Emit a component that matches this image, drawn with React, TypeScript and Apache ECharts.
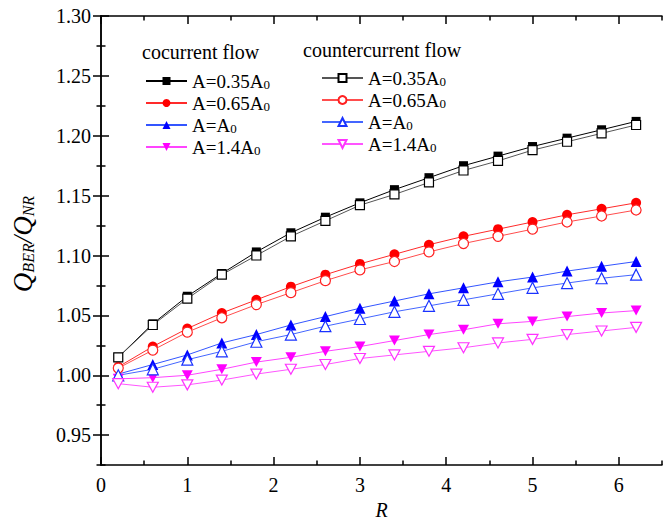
import React, { useEffect, useRef } from "react";
import * as echarts from "echarts";

const xValues = [0.2, 0.6, 1.0, 1.4, 1.8, 2.2, 2.6, 3.0, 3.4, 3.8, 4.2, 4.6, 5.0, 5.4, 5.8, 6.2];

const co035 = [1.015, 1.043, 1.066, 1.085, 1.103, 1.119, 1.132, 1.144, 1.155, 1.165, 1.175, 1.183, 1.191, 1.198, 1.205, 1.212];
const co065 = [1.007, 1.024, 1.039, 1.052, 1.063, 1.074, 1.084, 1.093, 1.101, 1.109, 1.116, 1.122, 1.128, 1.134, 1.139, 1.144];
const co100 = [1.001, 1.009, 1.017, 1.027, 1.034, 1.042, 1.049, 1.056, 1.062, 1.068, 1.073, 1.078, 1.082, 1.087, 1.091, 1.095];
const co140 = [0.997, 0.998, 1.0, 1.005, 1.011, 1.015, 1.02, 1.024, 1.029, 1.034, 1.038, 1.043, 1.045, 1.049, 1.052, 1.054];

const ct035 = [1.015, 1.042, 1.064, 1.084, 1.1, 1.116, 1.129, 1.142, 1.151, 1.161, 1.171, 1.179, 1.188, 1.195, 1.202, 1.209];
const ct065 = [1.006, 1.021, 1.036, 1.048, 1.059, 1.069, 1.079, 1.088, 1.095, 1.103, 1.11, 1.116, 1.122, 1.128, 1.133, 1.138];
const ct100 = [1.0, 1.005, 1.013, 1.02, 1.028, 1.034, 1.041, 1.047, 1.053, 1.058, 1.063, 1.068, 1.073, 1.077, 1.081, 1.084];
const ct140 = [0.993, 0.99, 0.992, 0.996, 1.001, 1.005, 1.009, 1.014, 1.017, 1.02, 1.023, 1.027, 1.03, 1.034, 1.037, 1.04];

const xMajor = [0, 1, 2, 3, 4, 5, 6];
const xMinor = [0.5, 1.5, 2.5, 3.5, 4.5, 5.5, 6.5];
const yMajor = [0.95, 1.0, 1.05, 1.1, 1.15, 1.2, 1.25, 1.3];
const yMinor = [0.925, 0.975, 1.025, 1.075, 1.125, 1.175, 1.225, 1.275];

const legendLabels: Record<string, string> = {
  co035: "A=0.35A{s|0}",
  co065: "A=0.65A{s|0}",
  co100: "A=A{s|0}",
  co140: "A=1.4A{s|0}",
  ct035: "A=0.35A{s|0}",
  ct065: "A=0.65A{s|0}",
  ct100: "A=A{s|0}",
  ct140: "A=1.4A{s|0}",
};

const FONT = "Liberation Serif";
const DOWN_TRI = "path://M0,0L10,0L5,9Z";

export default function App() {
  const ref = useRef<HTMLDivElement>(null);
  useEffect(() => {
    if (!ref.current) return;
    const chart = echarts.init(ref.current, undefined, { renderer: "svg" });
    const pairs = (ys: number[]) => xValues.map((x, i) => [x, ys[i]]);
    const filled = (name: string, ys: number[], color: string, lineColor: string, symbol: string, size: any) => ({
      name,
      type: "line",
      data: pairs(ys),
      symbol,
      symbolSize: size,
      showSymbol: true,
      lineStyle: { color: lineColor, width: 1 },
      itemStyle: { color, borderColor: color, borderWidth: 0 },
      xAxisIndex: 0,
      yAxisIndex: 0,
    });
    const hollow = (name: string, ys: number[], color: string, lineColor: string, symbol: string, size: any) => ({
      name,
      type: "line",
      data: pairs(ys),
      symbol,
      symbolSize: size,
      showSymbol: true,
      lineStyle: { color: lineColor, width: 1 },
      itemStyle: { color: "#ffffff", borderColor: color, borderWidth: 1.2 },
      xAxisIndex: 0,
      yAxisIndex: 0,
    });
    const axisLine = { show: true, lineStyle: { color: "#000", width: 1.5 } };
    const tickStyle = { color: "#000", width: 1.5 };
    const baseX = { type: "value", min: 0, max: 6.5, splitLine: { show: false } };
    const baseY = { type: "value", min: 0.925, max: 1.3, splitLine: { show: false } };
    const legendCommon = {
      orient: "vertical",
      itemWidth: 41,
      itemHeight: 10,
      itemGap: 2,
      selectedMode: false,
      formatter: (n: string) => legendLabels[n],
      textStyle: {
        fontFamily: FONT,
        fontSize: 19,
        color: "#000",
        lineHeight: 20,
        rich: {
          s: { fontFamily: FONT, fontSize: 13, lineHeight: 13, verticalAlign: "bottom", color: "#000" },
        },
      },
    };
    chart.setOption({
      animation: false,
      backgroundColor: "#ffffff",
      textStyle: { fontFamily: FONT },
      grid: { left: 101, right: 1, top: 16, bottom: 53 },
      xAxis: [
        {
          ...baseX,
          position: "bottom",
          axisLine,
          axisTick: { show: true, inside: true, length: 8, lineStyle: tickStyle, customValues: xMajor },
          axisLabel: {
            customValues: xMajor,
            margin: 10,
            fontFamily: FONT,
            fontSize: 20,
            color: "#000",
            formatter: (v: number) => String(v),
          },
          name: "R",
          nameLocation: "middle",
          nameGap: 31,
          nameTextStyle: { fontFamily: FONT, fontSize: 20, fontStyle: "italic", color: "#000" },
        },
        {
          ...baseX,
          position: "bottom",
          axisLine: { show: false },
          axisTick: { show: true, inside: true, length: 4.5, lineStyle: tickStyle, customValues: xMinor },
          axisLabel: { show: false },
        },
        {
          ...baseX,
          position: "top",
          axisLine,
          axisTick: { show: true, inside: true, length: 8, lineStyle: tickStyle, customValues: xMajor },
          axisLabel: { show: false },
        },
        {
          ...baseX,
          position: "top",
          axisLine: { show: false },
          axisTick: { show: true, inside: true, length: 4.5, lineStyle: tickStyle, customValues: xMinor },
          axisLabel: { show: false },
        },
      ],
      yAxis: [
        {
          ...baseY,
          position: "left",
          axisLine,
          axisTick: { show: true, inside: true, length: 8, lineStyle: tickStyle, customValues: yMajor },
          axisLabel: {
            customValues: yMajor,
            margin: 10,
            fontFamily: FONT,
            fontSize: 20,
            color: "#000",
            formatter: (v: number) => v.toFixed(2),
          },
        },
        {
          ...baseY,
          position: "left",
          axisLine: { show: false },
          axisTick: { show: true, inside: true, length: 4.5, lineStyle: tickStyle, customValues: yMinor },
          axisLabel: { show: false },
        },
        {
          ...baseY,
          position: "right",
          axisLine,
          axisTick: { show: true, inside: true, length: 8, lineStyle: tickStyle, customValues: yMajor },
          axisLabel: { show: false },
        },
        {
          ...baseY,
          position: "right",
          axisLine: { show: false },
          axisTick: { show: true, inside: true, length: 4.5, lineStyle: tickStyle, customValues: yMinor },
          axisLabel: { show: false },
        },
      ],
      legend: [
        { ...legendCommon, left: 140, top: 66, data: ["co035", "co065", "co100", "co140"] },
        { ...legendCommon, left: 316, top: 63, data: ["ct035", "ct065", "ct100", "ct140"] },
      ],
      graphic: [
        {
          type: "text",
          left: 142,
          top: 42,
          style: { text: "cocurrent flow", font: `20px ${FONT}`, fill: "#000" },
        },
        {
          type: "text",
          left: 303,
          top: 40,
          style: { text: "countercurrent flow", font: `20px ${FONT}`, fill: "#000" },
        },
        {
          type: "text",
          x: 22,
          y: 244,
          rotation: Math.PI / 2,
          style: {
            text: "{q|Q}{s|BER}{q|/Q}{s|NR}",
            align: "center",
            verticalAlign: "middle",
            fill: "#000",
            rich: {
              q: { fontFamily: FONT, fontStyle: "italic", fontSize: 27, fill: "#000", lineHeight: 28, verticalAlign: "bottom" },
              s: { fontFamily: FONT, fontStyle: "italic", fontSize: 16, fill: "#000", lineHeight: 16, verticalAlign: "bottom" },
            },
          },
        },
      ],
      series: [
        filled("co035", co035, "#000000", "#000000", "rect", 9),
        filled("co065", co065, "#ff0000", "#ff2a2a", "circle", 10),
        filled("co100", co100, "#0000ff", "#3355ff", "triangle", 11),
        filled("co140", co140, "#ff00ff", "#ff44ff", DOWN_TRI, [11, 10]),
        hollow("ct035", ct035, "#000000", "#555555", "rect", 9),
        hollow("ct065", ct065, "#ff2020", "#ff4d4d", "circle", 10),
        hollow("ct100", ct100, "#1a33ff", "#4466ff", "triangle", 11),
        hollow("ct140", ct140, "#ff33ff", "#ff55ff", DOWN_TRI, [11, 10]),
      ],
    });
    return () => chart.dispose();
  }, []);
  return (
    <div
      ref={ref}
      style={{ position: "fixed", left: 0, top: 0, width: 663, height: 525, background: "#fff" }}
    />
  );
}
